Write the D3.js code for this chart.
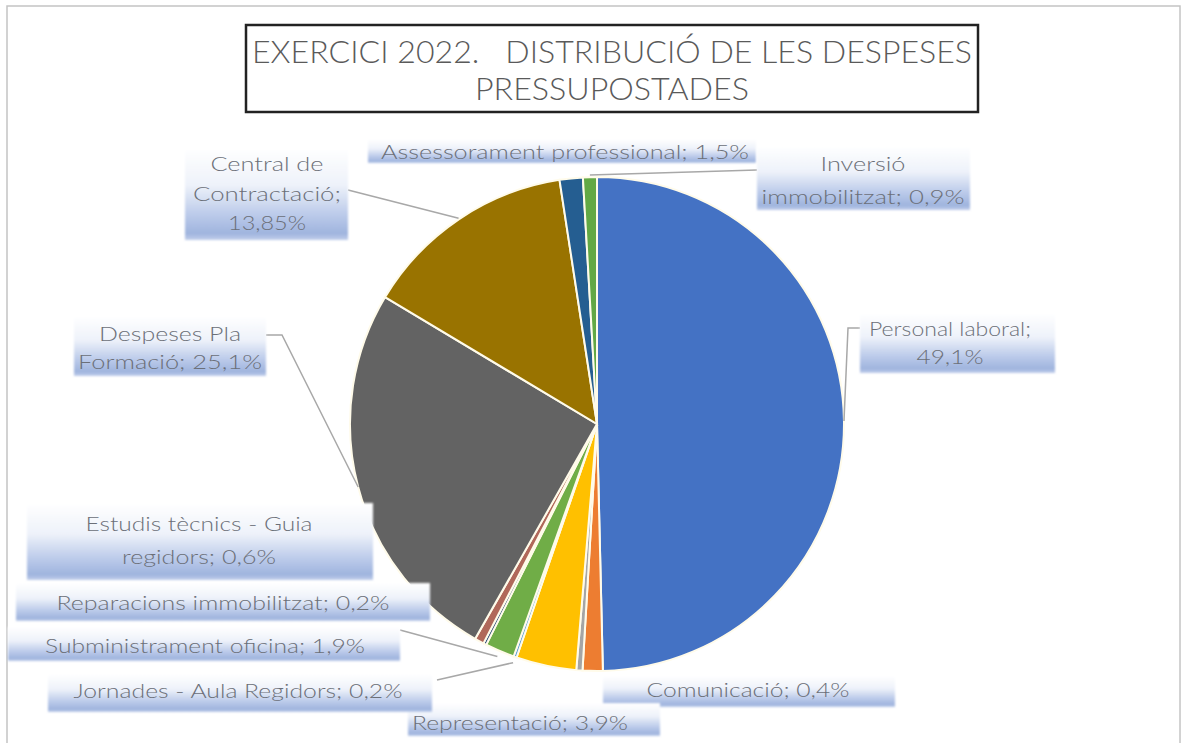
<!DOCTYPE html>
<html>
<head>
<meta charset="utf-8">
<script src="https://cdn.jsdelivr.net/npm/d3@7"></script>
<style>
    body { margin: 0; background: #fff; }
</style>
</head>
<body>
<div id="chart-container"></div>
<script>
// slices, clockwise from 12 o'clock (the orange one carries no label in the original)
const categories = ["Personal laboral", null, "Comunicació", "Representació", "Jornades - Aula Regidors",
    "Subministrament oficina", "Reparacions immobilitzat", "Estudis tècnics - Guia regidors",
    "Despeses Pla Formació", "Central de Contractació", "Assessorament professional", "Inversió immobilitzat"];
const values = [49.1, 1.3, 0.4, 3.9, 0.2, 1.9, 0.2, 0.6, 25.1, 13.85, 1.5, 0.9];
const sliceColors = ["#4472c4", "#ed7d31", "#a5a5a5", "#ffc000", "#5b9bd5", "#70ad47",
    "#264478", "#b0685a", "#636363", "#997300", "#255e91", "#62a845"];
const titleLines = ["EXERCICI 2022.   DISTRIBUCIÓ DE LES DESPESES", "PRESSUPOSTADES"];

// where each data label sits: box [x, y, w, h], words per line, line centres/widths, leader start
const labelLayout = {
    "Personal laboral": {box: [860, 313, 195, 60], wrap: [2, 1], lines: [[950, 328, 162], [950, 356, 67]], leader: [[860, 328], [848, 328]], out: 0},
    "Inversió immobilitzat": {box: [757, 146, 213, 64], wrap: [1, 2], lines: [[863, 163, 85], [863, 196, 203]], leader: [[757, 170]], out: 2},
    "Assessorament professional": {box: [368, 139, 388, 24], wrap: [4], lines: [[565, 151, 368]]},
    "Central de Contractació": {box: [185, 148, 163, 92], wrap: [2, 1, 1], lines: [[267, 163, 113], [267, 193, 148], [267, 222, 78]], leader: [[348, 190]], out: 1},
    "Despeses Pla Formació": {box: [74, 316, 192, 60], wrap: [2, 2], lines: [[170, 333, 142], [170, 361, 184]], leader: [[266, 335], [282, 335]], out: 0},
    "Estudis tècnics - Guia regidors": {box: [27, 503, 346, 77], wrap: [4, 2], lines: [[199, 523, 227], [199, 556, 154]]},
    "Reparacions immobilitzat": {box: [16, 583, 414, 38], wrap: [3], lines: [[223, 602, 333]]},
    "Subministrament oficina": {box: [8, 627, 392, 34], wrap: [3], lines: [[205, 645, 320]], leader: [[400, 630]], out: 6},
    "Jornades - Aula Regidors": {box: [48, 674, 384, 38], wrap: [6], lines: [[238, 690, 329]], leader: [[437, 680]], out: 6},
    "Representació": {box: [408, 703, 252, 33], wrap: [2], lines: [[520, 722, 216]]},
    "Comunicació": {box: [603, 676, 292, 31], wrap: [2], lines: [[748, 689, 203]]}
};

const width = 1182, height = 743;
const cx = 597, cy = 424, radius = 247;

const svg = d3.select('#chart-container').append('svg')
    .attr('width', width)
    .attr('height', height)
    .style('font-family', 'Lato, "Noto Sans", sans-serif');

const defs = svg.append('defs');
const grad = defs.append('linearGradient')
    .attr('id', 'labelFill')
    .attr('x1', 0).attr('y1', 0).attr('x2', 0).attr('y2', 1);
[[0, '#ffffff'], [0.4, '#eef2fa'], [0.72, '#bccbea'], [0.93, '#9fb4de'], [1, '#c2cfeb']]
    .forEach(([o, c]) => grad.append('stop').attr('offset', o).attr('stop-color', c));
defs.append('filter').attr('id', 'soft')
    .append('feGaussianBlur').attr('stdDeviation', 1.2);

// outer chart frame
svg.append('rect')
    .attr('x', 7).attr('y', 6)
    .attr('width', 1173).attr('height', 760)
    .style('fill', 'none')
    .style('stroke', '#c4c4c4')
    .style('stroke-width', 1.5);

// title box
svg.append('rect')
    .attr('x', 246).attr('y', 25)
    .attr('width', 732).attr('height', 87)
    .style('fill', '#fff')
    .style('stroke', '#222')
    .style('stroke-width', 2.5);

svg.append('g').selectAll('text')
    .data(titleLines)
    .enter()
    .append('text')
    .text(d => d)
    .attr('x', 612)
    .attr('y', (d, i) => 63 + i * 37)
    .attr('text-anchor', 'middle')
    .attr('textLength', (d, i) => i === 0 ? 720 : 274)
    .attr('lengthAdjust', 'spacingAndGlyphs')
    .style('white-space', 'pre')
    .style('font-size', '32px')
    .style('font-weight', 300)
    .style('fill', '#5a5a5a');

const slices = categories.map((name, i) => ({name, value: values[i], color: sliceColors[i]}));

const pie = d3.pie().sort(null).value(d => d.value);
const arcs = pie(slices);
const arc = d3.arc().innerRadius(0).outerRadius(radius);

const pieG = svg.append('g').attr('transform', `translate(${cx},${cy})`);
pieG.selectAll('path')
    .data(arcs)
    .enter()
    .append('path')
    .attr('d', arc)
    .style('fill', d => d.data.color)
    .style('stroke', '#fffbea')
    .style('stroke-width', 2);

const fmt = v => String(v).replace('.', ',') + '%';

const pointOnPie = (a, r) => [cx + r * Math.sin(a), cy - r * Math.cos(a)];

const labelled = arcs.filter(d => d.data.name && labelLayout[d.data.name]);

// leader lines
svg.append('g').selectAll('polyline')
    .data(labelled.filter(d => labelLayout[d.data.name].leader))
    .enter()
    .append('polyline')
    .style('fill', 'none')
    .style('stroke', '#a8a8a8')
    .style('stroke-width', 1.5)
    .attr('points', d => {
        const lay = labelLayout[d.data.name];
        const mid = (d.startAngle + d.endAngle) / 2;
        return lay.leader.concat([pointOnPie(mid, radius + lay.out)]).map(p => p.join(',')).join(' ');
    });

// label boxes and text
const labels = svg.append('g').selectAll('g')
    .data(labelled)
    .enter()
    .append('g');

labels.append('rect')
    .attr('x', d => labelLayout[d.data.name].box[0])
    .attr('y', d => labelLayout[d.data.name].box[1])
    .attr('width', d => labelLayout[d.data.name].box[2])
    .attr('height', d => labelLayout[d.data.name].box[3])
    .style('fill', 'url(#labelFill)')
    .attr('filter', 'url(#soft)');

labels.each(function (d) {
    const lay = labelLayout[d.data.name];
    const words = `${d.data.name}; ${fmt(d.data.value)}`.split(' ');
    let k = 0;
    lay.wrap.forEach((n, i) => {
        const line = words.slice(k, k + n).join(' ');
        k += n;
        const [x, y, w] = lay.lines[i];
        d3.select(this).append('text')
            .text(line)
            .attr('x', x)
            .attr('y', y)
            .attr('text-anchor', 'middle')
            .attr('dominant-baseline', 'central')
            .attr('textLength', w)
            .attr('lengthAdjust', 'spacingAndGlyphs')
            .style('font-size', '19px')
            .style('font-weight', 300)
            .style('fill', '#6b6f78');
    });
});
</script>
</body>
</html>
